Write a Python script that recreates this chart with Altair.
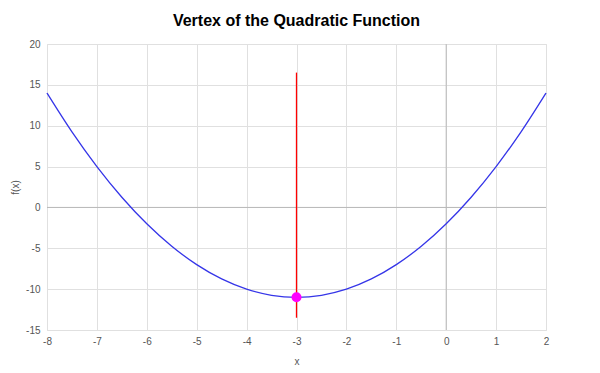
import altair as alt
import pandas as pd

xs = [-8, -7.5, -7, -6.5, -6, -5.5, -5, -4.5, -4, -3.5, -3, -2.5, -2, -1.5, -1, -0.5, 0, 0.5, 1, 1.5, 2]
ys = [14, 9.25, 5, 1.25, -2, -4.75, -7, -8.75, -10, -10.75, -11, -10.75, -10, -8.75, -7, -4.75, -2, 1.25, 5, 9.25, 14]
vertex_x = [-3]
vertex_y = [-11]
axis_line_lo = [-13.5]
axis_line_hi = [16.5]
x_ticks = [-8, -7, -6, -5, -4, -3, -2, -1, 0, 1, 2]
y_ticks = [-15, -10, -5, 0, 5, 10, 15, 20]

curve = pd.DataFrame({"x": xs, "y": ys})
vertex = pd.DataFrame({"x": vertex_x, "y": vertex_y})
sym = pd.DataFrame({"x": vertex_x, "y": axis_line_lo, "y2": axis_line_hi})
zero = pd.DataFrame({"v": [0]})

xscale = alt.Scale(domain=[-8, 2], nice=False, zero=False)
yscale = alt.Scale(domain=[-15, 20], nice=False, zero=False)

common = dict(domain=False, ticks=False, labelOverlap=False, labelFlush=False,
              labelExpr="'' + datum.value",
              gridColor="#e0e0e0", labelColor="#555", labelFontSize=10,
              titleColor="#555", titleFontSize=10, titleFontWeight="normal",
              labelFont="Liberation Sans", titleFont="Liberation Sans")
xaxis = alt.Axis(title="x", values=x_ticks, labelPadding=6, titlePadding=10, **common)
yaxis = alt.Axis(title="f(x)", values=y_ticks, labelPadding=7, titlePadding=5, **common)

X = lambda f: alt.X(f, scale=xscale, axis=xaxis)
Y = lambda f: alt.Y(f, scale=yscale, axis=yaxis)

line = alt.Chart(curve).mark_line(color="#3535e8", strokeWidth=1.3, interpolate="monotone").encode(
    x=X("x:Q"), y=Y("y:Q"),
)

zx = alt.Chart(zero).mark_rule(color="#b8b8b8", strokeWidth=1).encode(x=X("v:Q"))
zy = alt.Chart(zero).mark_rule(color="#b8b8b8", strokeWidth=1).encode(y=Y("v:Q"))

rule = alt.Chart(sym).mark_rule(color="red", strokeWidth=1.3).encode(
    x=X("x:Q"), y=Y("y:Q"), y2="y2:Q"
)

pt = alt.Chart(vertex).mark_point(filled=True, color="#ff00ff", size=100, opacity=1).encode(
    x=X("x:Q"), y=Y("y:Q")
)

chart = alt.layer(zx, zy, line, rule, pt).properties(
    width=499, height=286,
    title=alt.TitleParams("Vertex of the Quadratic Function", fontSize=16, fontWeight="bold",
                          font="Liberation Sans", color="#000", offset=10, anchor="middle"),
    autosize=alt.AutoSizeParams(type="none"),
    padding={"left": 47, "top": 44, "right": 54, "bottom": 43},
).configure_view(stroke=None).configure(background="white")

chart.save("out.html", embed_options={"renderer": "svg", "actions": False})
